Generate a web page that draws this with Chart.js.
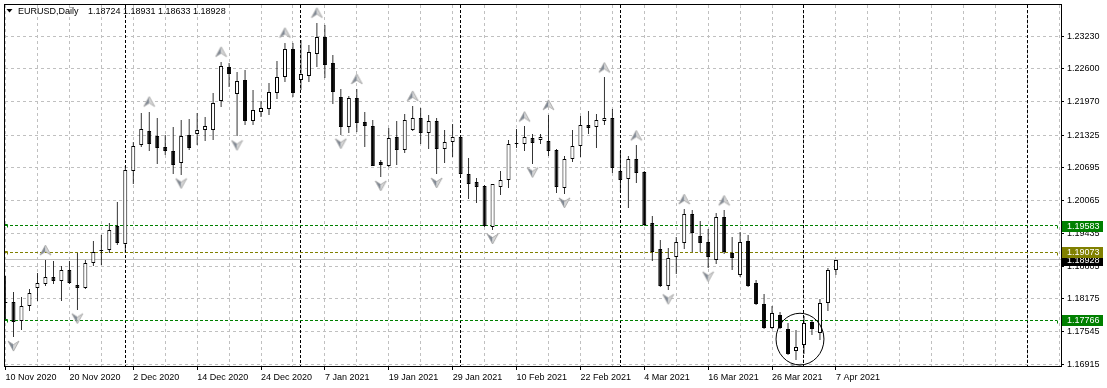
<!DOCTYPE html>
<html>
<head>
<meta charset="utf-8">
<script src="https://cdn.jsdelivr.net/npm/chart.js@4.4.1/dist/chart.umd.min.js"></script>
<style>
  html, body { margin: 0; padding: 0; background: #fff; }
  canvas { display: block; }
</style>
</head>
<body>
<canvas id="chart" width="1107" height="388"></canvas>
<script>
// EURUSD daily bars, 10 Nov 2020 .. 7 Apr 2021 (bar index 0..104)
const opens = [
  1.18121, 1.18108, 1.17752, 1.18039, 1.18384, 1.18460, 1.18600, 1.18518, 1.18729, 1.18441,
  1.18376, 1.18863, 1.19117, 1.19112, 1.19571, 1.19226, 1.20644, 1.21128, 1.21410, 1.21300,
  1.21090, 1.21027, 1.20789, 1.21333, 1.21352, 1.21429, 1.21429, 1.21984, 1.22641, 1.22110,
  1.22386, 1.21601, 1.21779, 1.21823, 1.22143, 1.22436, 1.22980, 1.22386, 1.22463, 1.22884,
  1.23215, 1.22717, 1.22066, 1.21473, 1.22047, 1.21569, 1.21492, 1.20803, 1.20739, 1.21281,
  1.21046, 1.21429, 1.21659, 1.21364, 1.21588, 1.21057, 1.21186, 1.21281, 1.20586, 1.20420,
  1.20343, 1.19563, 1.20329, 1.20452, 1.21153, 1.21153, 1.21262, 1.21237, 1.21218, 1.21046,
  1.20310, 1.20873, 1.21122, 1.21524, 1.21478, 1.21601, 1.21651, 1.20644, 1.20471, 1.20873,
  1.20611, 1.19629, 1.19131, 1.18428, 1.18970, 1.19257, 1.19801, 1.19385, 1.19271, 1.18920,
  1.19749, 1.19060, 1.18633, 1.19284, 1.18480, 1.18077, 1.17618, 1.17867, 1.17599, 1.17164,
  1.17279, 1.17738, 1.17522, 1.18097, 1.18724
];
const highs = [
  1.18606, 1.18313, 1.18217, 1.18365, 1.18671, 1.18920, 1.18907, 1.18805, 1.18907, 1.19066,
  1.18920, 1.19290, 1.19399, 1.19634, 1.20036, 1.20739, 1.21191, 1.21747, 1.21779, 1.21651,
  1.21333, 1.21473, 1.21620, 1.21639, 1.21760, 1.21683, 1.22130, 1.22737, 1.22717, 1.22532,
  1.22578, 1.22195, 1.21984, 1.22321, 1.22750, 1.23106, 1.23106, 1.23152, 1.23056, 1.23489,
  1.23451, 1.22876, 1.22214, 1.22080, 1.22214, 1.21779, 1.21620, 1.20854, 1.21459, 1.21588,
  1.21727, 1.21888, 1.21842, 1.21703, 1.21651, 1.21415, 1.21544, 1.21320, 1.20885, 1.20502,
  1.20356, 1.20387, 1.20644, 1.21224, 1.21440, 1.21492, 1.21344, 1.21352, 1.21716, 1.21065,
  1.20917, 1.21429, 1.21697, 1.21793, 1.21735, 1.22436, 1.21831, 1.21013, 1.20931, 1.21128,
  1.20644, 1.19768, 1.19303, 1.19146, 1.19372, 1.19902, 1.19887, 1.19673, 1.19514, 1.19832,
  1.19878, 1.19361, 1.19456, 1.19395, 1.18529, 1.18269, 1.18045, 1.17917, 1.17706, 1.17580,
  1.17853, 1.17758, 1.18173, 1.18767, 1.18931
];
const lows = [
  1.17790, 1.17438, 1.17566, 1.17949, 1.18127, 1.18414, 1.18460, 1.18141, 1.18460, 1.17968,
  1.18357, 1.18797, 1.18830, 1.19066, 1.19213, 1.19066, 1.20387, 1.21090, 1.21013, 1.20770,
  1.20950, 1.20586, 1.20567, 1.21046, 1.21141, 1.21218, 1.21237, 1.21875, 1.22258, 1.21300,
  1.21524, 1.21524, 1.21683, 1.21716, 1.22015, 1.22340, 1.22066, 1.22195, 1.22340, 1.22641,
  1.22430, 1.21919, 1.21333, 1.21364, 1.21383, 1.21095, 1.20726, 1.20521, 1.20712, 1.20745,
  1.20981, 1.21396, 1.21153, 1.21057, 1.20578, 1.20789, 1.20904, 1.20567, 1.20100, 1.20023,
  1.19558, 1.19500, 1.20171, 1.20310, 1.21076, 1.21013, 1.20778, 1.21153, 1.20931, 1.20215,
  1.20195, 1.20808, 1.20904, 1.21344, 1.21076, 1.21524, 1.20598, 1.20234, 1.19916, 1.20406,
  1.19577, 1.18907, 1.18409, 1.18338, 1.18652, 1.19142, 1.19079, 1.19073, 1.18773, 1.18836,
  1.19035, 1.18721, 1.18587, 1.18395, 1.18051, 1.17599, 1.17599, 1.17591, 1.17087, 1.17005,
  1.17120, 1.17470, 1.17375, 1.17936, 1.18633
];
const closes = [
  1.18093, 1.17733, 1.18039, 1.18288, 1.18480, 1.18600, 1.18510, 1.18729, 1.18485, 1.18376,
  1.18863, 1.19085, 1.19092, 1.19500, 1.19257, 1.20663, 1.21109, 1.21448, 1.21153, 1.21076,
  1.21027, 1.20758, 1.21314, 1.21076, 1.21429, 1.21492, 1.21951, 1.22660, 1.22493, 1.22367,
  1.21601, 1.21812, 1.21842, 1.22149, 1.22449, 1.22980, 1.22130, 1.22501, 1.22915, 1.23215,
  1.22673, 1.22149, 1.21473, 1.22034, 1.21555, 1.21505, 1.20739, 1.20751, 1.21262, 1.21046,
  1.21607, 1.21659, 1.21364, 1.21588, 1.21057, 1.21186, 1.21295, 1.20578, 1.20387, 1.20329,
  1.19577, 1.20375, 1.20452, 1.21161, 1.21172, 1.21281, 1.21172, 1.21281, 1.21027, 1.20329,
  1.20873, 1.21122, 1.21524, 1.21459, 1.21620, 1.21651, 1.20693, 1.20452, 1.20873, 1.20598,
  1.19590, 1.19073, 1.18428, 1.18958, 1.19271, 1.19801, 1.19449, 1.19257, 1.18970, 1.19749,
  1.19073, 1.18951, 1.19271, 1.18428, 1.18083, 1.17610, 1.17905, 1.17610, 1.17107, 1.17246,
  1.17714, 1.17599, 1.18097, 1.18729, 1.18928
];

// fractal bars (arrows above highs / below lows)
const upFractals = [5, 18, 27, 35, 39, 44, 51, 65, 68, 75, 79, 85, 90];
const downFractals = [1, 9, 22, 29, 42, 47, 54, 61, 66, 70, 83, 88, 99];

// time scale labels and the bars they sit on
const xTickBars = [0, 8, 16, 24, 32, 40, 48, 56, 64, 72, 80, 88, 96, 104];
const xTickLabels = ['10 Nov 2020', '20 Nov 2020', '2 Dec 2020', '14 Dec 2020', '24 Dec 2020',
  '7 Jan 2021', '19 Jan 2021', '29 Jan 2021', '10 Feb 2021', '22 Feb 2021', '4 Mar 2021',
  '16 Mar 2021', '26 Mar 2021', '7 Apr 2021'];

// price scale labels
const yTicks = [1.16915, 1.17545, 1.18175, 1.18805, 1.19435, 1.20065, 1.20695, 1.21325, 1.21970, 1.22600, 1.23230];

// first bar of each month (period separators)
const monthStarts = [15, 37, 57, 77, 100, 128];

// horizontal line objects
const levelPrices = [1.19583, 1.19073, 1.17766];

Chart.defaults.font.family = "Tahoma, 'Liberation Sans', Arial, sans-serif";
Chart.defaults.font.size = 9;
Chart.defaults.color = '#000';

const last = closes.length - 1;
const bodyColors = closes.map((c, i) => (c >= opens[i] ? '#ffffff' : '#000000'));

function makeArrow(up) {
  const c = document.createElement('canvas');
  c.width = 13;
  c.height = 40;
  const g = c.getContext('2d');
  const tip = up ? 5 : 34;
  const d = up ? 1 : -1;
  const apex = [6.5, tip], left = [1, tip + 10 * d], notch = [6.5, tip + 6.5 * d], right = [12, tip + 10 * d];
  g.fillStyle = '#7f8894';
  g.beginPath(); g.moveTo(...apex); g.lineTo(...left); g.lineTo(...notch); g.closePath(); g.fill();
  g.fillStyle = '#d6d6d6';
  g.beginPath(); g.moveTo(...apex); g.lineTo(...notch); g.lineTo(...right); g.closePath(); g.fill();
  g.strokeStyle = '#a0a0a0';
  g.lineWidth = 0.8;
  g.beginPath(); g.moveTo(...apex); g.lineTo(...left); g.lineTo(...notch); g.lineTo(...right); g.closePath(); g.stroke();
  return c;
}

const mtPlugin = {
  id: 'mt',
  // snap candle bodies and wicks to whole pixels, like the terminal draws them
  afterDatasetsUpdate(chart) {
    [0, 1].forEach(di => {
      chart.getDatasetMeta(di).data.forEach(el => {
        let top = Math.round(Math.min(el.y, el.base));
        let bottom = Math.round(Math.max(el.y, el.base));
        if (bottom - top < 1) bottom = top + 1;
        el.y = top;
        el.base = bottom;
      });
    });
  },
  beforeDatasetsDraw(chart) {
    const { ctx, chartArea: a, scales: { x, y } } = chart;
    const crisp = v => Math.round(v - 0.5) + 0.5;
    ctx.save();
    ctx.lineWidth = 1;
    // month separators
    ctx.strokeStyle = '#000';
    ctx.setLineDash([3, 2]);
    monthStarts.forEach(i => {
      const px = crisp(x.getPixelForValue(i));
      ctx.beginPath(); ctx.moveTo(px, a.top); ctx.lineTo(px, a.bottom); ctx.stroke();
    });
    // bid line
    ctx.setLineDash([]);
    ctx.strokeStyle = '#c0c0c0';
    let py = crisp(y.getPixelForValue(closes[last]));
    ctx.beginPath(); ctx.moveTo(a.left, py); ctx.lineTo(a.right, py); ctx.stroke();
    // horizontal levels
    const colors = ['#008000', '#808000', '#008000'];
    levelPrices.forEach((p, k) => {
      py = crisp(y.getPixelForValue(p));
      ctx.strokeStyle = colors[k];
      ctx.setLineDash([3, 2]);
      ctx.beginPath(); ctx.moveTo(a.left, py); ctx.lineTo(a.right - 4, py); ctx.stroke();
      ctx.setLineDash([]);
      ctx.beginPath(); ctx.moveTo(a.right - 3.5, py); ctx.lineTo(a.right - 3.5, py + 3); ctx.stroke();
      ctx.beginPath(); ctx.moveTo(4.5, py + 2); ctx.lineTo(4.5, py - 1); ctx.lineTo(7.5, py - 1); ctx.lineTo(7.5, py + 2); ctx.stroke();
    });
    ctx.restore();
  },
  afterDraw(chart) {
    const { ctx, chartArea: a, scales: { x, y } } = chart;
    ctx.save();
    // circle object around the late-March low
    const x1 = x.getPixelForValue(96.5), x2 = x.getPixelForValue(102.5);
    const y1 = y.getPixelForValue(1.17897), y2 = y.getPixelForValue(1.16902);
    ctx.strokeStyle = '#000';
    ctx.lineWidth = 1;
    ctx.beginPath();
    ctx.ellipse((x1 + x2) / 2, (y1 + y2) / 2, (x2 - x1) / 2, (y2 - y1) / 2, 0, 0, Math.PI * 2);
    ctx.stroke();
    // frame
    ctx.strokeRect(a.left - 0.5, a.top - 0.5, a.right - a.left + 1, a.bottom - a.top + 1);
    // price labels on the scale
    const tags = [
      { p: closes[last], bg: '#000000' },
      { p: levelPrices[1], bg: '#808000' },
      { p: levelPrices[0], bg: '#008000' },
      { p: levelPrices[2], bg: '#008000' }
    ];
    ctx.font = Chart.defaults.font.size + 'px ' + Chart.defaults.font.family;
    ctx.textBaseline = 'middle';
    tags.forEach(t => {
      const py = Math.round(y.getPixelForValue(t.p));
      ctx.fillStyle = t.bg;
      ctx.fillRect(a.right + 1, py - 5, 41, 11);
      ctx.fillStyle = '#ffffff';
      ctx.fillText(t.p.toFixed(5), a.right + 6, py + 0.5);
    });
    // symbol caption
    ctx.fillStyle = '#000';
    ctx.beginPath(); ctx.moveTo(6.5, 9); ctx.lineTo(12.5, 9); ctx.lineTo(9.5, 12.5); ctx.closePath(); ctx.fill();
    ctx.textBaseline = 'alphabetic';
    ctx.fillText('EURUSD,Daily', 18, 14);
    ctx.fillText([opens[last], highs[last], lows[last], closes[last]].map(v => v.toFixed(5)).join(' '), 88, 14);
    ctx.restore();
  }
};

const gridBars = [];
for (let v = 0; v <= 132; v += 4) gridBars.push(v);

new Chart(document.getElementById('chart'), {
  type: 'bar',
  data: {
    datasets: [
      {
        label: 'bodies',
        data: opens.map((o, i) => ({ x: i, y: [o, closes[i]] })),
        backgroundColor: bodyColors,
        borderColor: '#000',
        borderWidth: 1,
        borderSkipped: false,
        grouped: false,
        barPercentage: 0.625,
        maxBarThickness: 5,
        minBarLength: 1,
        inflateAmount: 0
      },
      {
        label: 'wicks',
        data: lows.map((l, i) => ({ x: i, y: [l, highs[i]] })),
        backgroundColor: '#000',
        borderWidth: 0,
        grouped: false,
        barPercentage: 0.125,
        maxBarThickness: 1,
        inflateAmount: 0
      },
      {
        type: 'line',
        label: 'fractal up',
        data: upFractals.map(i => ({ x: i, y: highs[i] })),
        showLine: false,
        pointStyle: makeArrow(true)
      },
      {
        type: 'line',
        label: 'fractal down',
        data: downFractals.map(i => ({ x: i, y: lows[i] })),
        showLine: false,
        pointStyle: makeArrow(false)
      }
    ]
  },
  options: {
    responsive: false,
    animation: false,
    devicePixelRatio: 1,
    events: [],
    layout: { padding: { left: 3, top: 3, right: 0, bottom: 0 } },
    plugins: { legend: { display: false }, tooltip: { enabled: false } },
    scales: {
      x: {
        type: 'linear',
        min: -0.0625,
        max: 132.1875,
        offset: false,
        afterBuildTicks: s => { s.ticks = gridBars.map(v => ({ value: v })); },
        afterFit: s => { s.height = 22; s.paddingLeft = 0; s.paddingRight = 0; },
        grid: {
          offset: false,
          color: '#c0c0c0',
          tickLength: 4,
          tickColor: c => (c.tick && xTickBars.includes(c.tick.value) ? '#000' : 'rgba(0,0,0,0)'),
          tickBorderDash: []
        },
        border: { display: false, dash: [3, 3] },
        ticks: {
          autoSkip: false,
          maxRotation: 0,
          minRotation: 0,
          align: 'start',
          padding: 2,
          callback: v => {
            const k = xTickBars.indexOf(v);
            return k >= 0 ? xTickLabels[k] : '';
          }
        }
      },
      y: {
        position: 'right',
        min: 1.16882,
        max: 1.23829,
        beginAtZero: false,
        afterBuildTicks: s => { s.ticks = yTicks.map(v => ({ value: v })); },
        afterFit: s => { s.width = 46; s.paddingTop = 0; s.paddingBottom = 0; },
        grid: { color: '#c0c0c0', tickLength: 3, tickColor: '#000', tickBorderDash: [] },
        border: { display: false, dash: [3, 3] },
        ticks: { padding: 3, callback: v => v.toFixed(5) }
      }
    }
  },
  plugins: [mtPlugin]
});
</script>
</body>
</html>
